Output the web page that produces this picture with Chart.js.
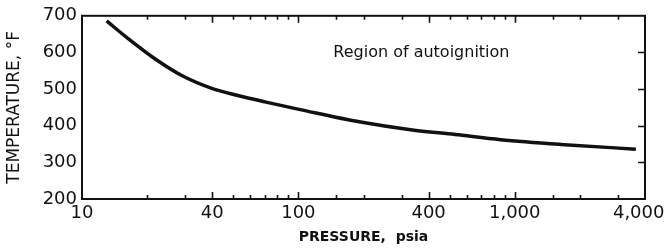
<!DOCTYPE html>
<html>
<head>
<meta charset="utf-8">
<script src="https://cdn.jsdelivr.net/npm/chart.js@4"></script>
<style>
  html, body { margin: 0; padding: 0; background: #fff; }
  #wrap { width: 664px; height: 248px; }
</style>
</head>
<body>
<div id="wrap"><canvas id="chart" width="664" height="248"></canvas></div>
<script>
// 곡선 데이터
const pressurePsia = [13, 16.4, 21.8, 28.9, 39.8, 52, 70, 102, 194, 330, 530, 861, 1630, 3630];
const temperatureF = [686, 637, 582, 537, 502, 483, 465, 444, 410, 389, 376, 362, 349, 336];

// 축 눈금
const xLabeledTicks = [10, 40, 100, 400, 1000, 4000];
const xTickText = ['10', '40', '100', '400', '1,000', '4,000\u2002\u2009'];
const yTickValues = [200, 300, 400, 500, 600, 700];

// 주석 텍스트
const regionLabel = 'Region of autoignition';
const regionAt = { x: 145, y: 600 };

const INK = '#111';

/* ── 안쪽 눈금 + 테두리 플러그인 ── */
const frameTicks = {
  id: 'frameTicks',
  afterDatasetsDraw(chart) {
    const { ctx, chartArea: a, scales: { x, y } } = chart;
    ctx.save();
    ctx.strokeStyle = INK;
    ctx.lineWidth = 1.6;
    ctx.beginPath();
    x.ticks.forEach(t => {
      const px = Math.round(x.getPixelForValue(t.value)) + 0.5;
      if (px <= a.left + 1 || px >= a.right - 1) return;
      const len = xLabeledTicks.includes(t.value) ? 7 : 4;
      ctx.moveTo(px, a.top); ctx.lineTo(px, a.top + len);
      ctx.moveTo(px, a.bottom); ctx.lineTo(px, a.bottom - len);
    });
    y.ticks.forEach(t => {
      const py = Math.round(y.getPixelForValue(t.value)) + 0.5;
      if (py <= a.top + 1 || py >= a.bottom - 1) return;
      ctx.moveTo(a.right, py); ctx.lineTo(a.right - 7, py);
    });
    ctx.stroke();

    ctx.lineWidth = 2;
    ctx.strokeRect(a.left, a.top, a.right - a.left, a.bottom - a.top);

    // 영역 라벨
    ctx.fillStyle = INK;
    ctx.font = '16px "DejaVu Sans", sans-serif';
    ctx.textAlign = 'left';
    ctx.textBaseline = 'middle';
    ctx.fillText(regionLabel, x.getPixelForValue(regionAt.x), y.getPixelForValue(regionAt.y));
    ctx.restore();
  }
};

const tickFont = { family: '"DejaVu Sans", sans-serif', size: 18 };

new Chart(document.getElementById('chart'), {
  type: 'line',
  data: {
    datasets: [{
      data: pressurePsia.map((p, i) => ({ x: p, y: temperatureF[i] })),
      borderColor: INK,
      borderWidth: 3.5,
      pointRadius: 0,
      cubicInterpolationMode: 'monotone',
      fill: false
    }]
  },
  options: {
    responsive: false,
    animation: false,
    layout: { padding: { left: 0, right: 19, top: 15, bottom: 0 } },
    plugins: { legend: { display: false }, tooltip: { enabled: false } },
    scales: {
      x: {
        type: 'logarithmic',
        min: 10,
        max: 4000,
        grid: { display: false, drawTicks: false },
        border: { display: false },
        ticks: {
          autoSkip: false,
          maxRotation: 0,
          minRotation: 0,
          padding: 4,
          color: INK,
          font: tickFont,
          callback: v => {
            const i = xLabeledTicks.indexOf(v);
            return i >= 0 ? xTickText[i] : '';
          }
        },
        title: {
          display: true,
          text: 'PRESSURE,  psia',
          color: INK,
          font: { family: '"DejaVu Sans", sans-serif', size: 14, weight: 'bold' },
          padding: { top: 2, bottom: 2 }
        },
        afterFit: s => { s.height = 49; s.paddingLeft = 0; s.paddingRight = 0; }
      },
      y: {
        min: 200,
        max: 700,
        grid: { display: false, drawTicks: false },
        border: { display: false },
        afterBuildTicks: s => { s.ticks = yTickValues.map(v => ({ value: v })); },
        ticks: {
          padding: 5,
          color: INK,
          font: tickFont
        },
        title: {
          display: true,
          text: 'TEMPERATURE, °F',
          color: INK,
          font: { family: '"DejaVu Sans", sans-serif', size: 17 },
          padding: { top: 4, bottom: 0 }
        },
        afterFit: s => { s.width = 82; }
      }
    }
  },
  plugins: [frameTicks]
});
</script>
</body>
</html>
